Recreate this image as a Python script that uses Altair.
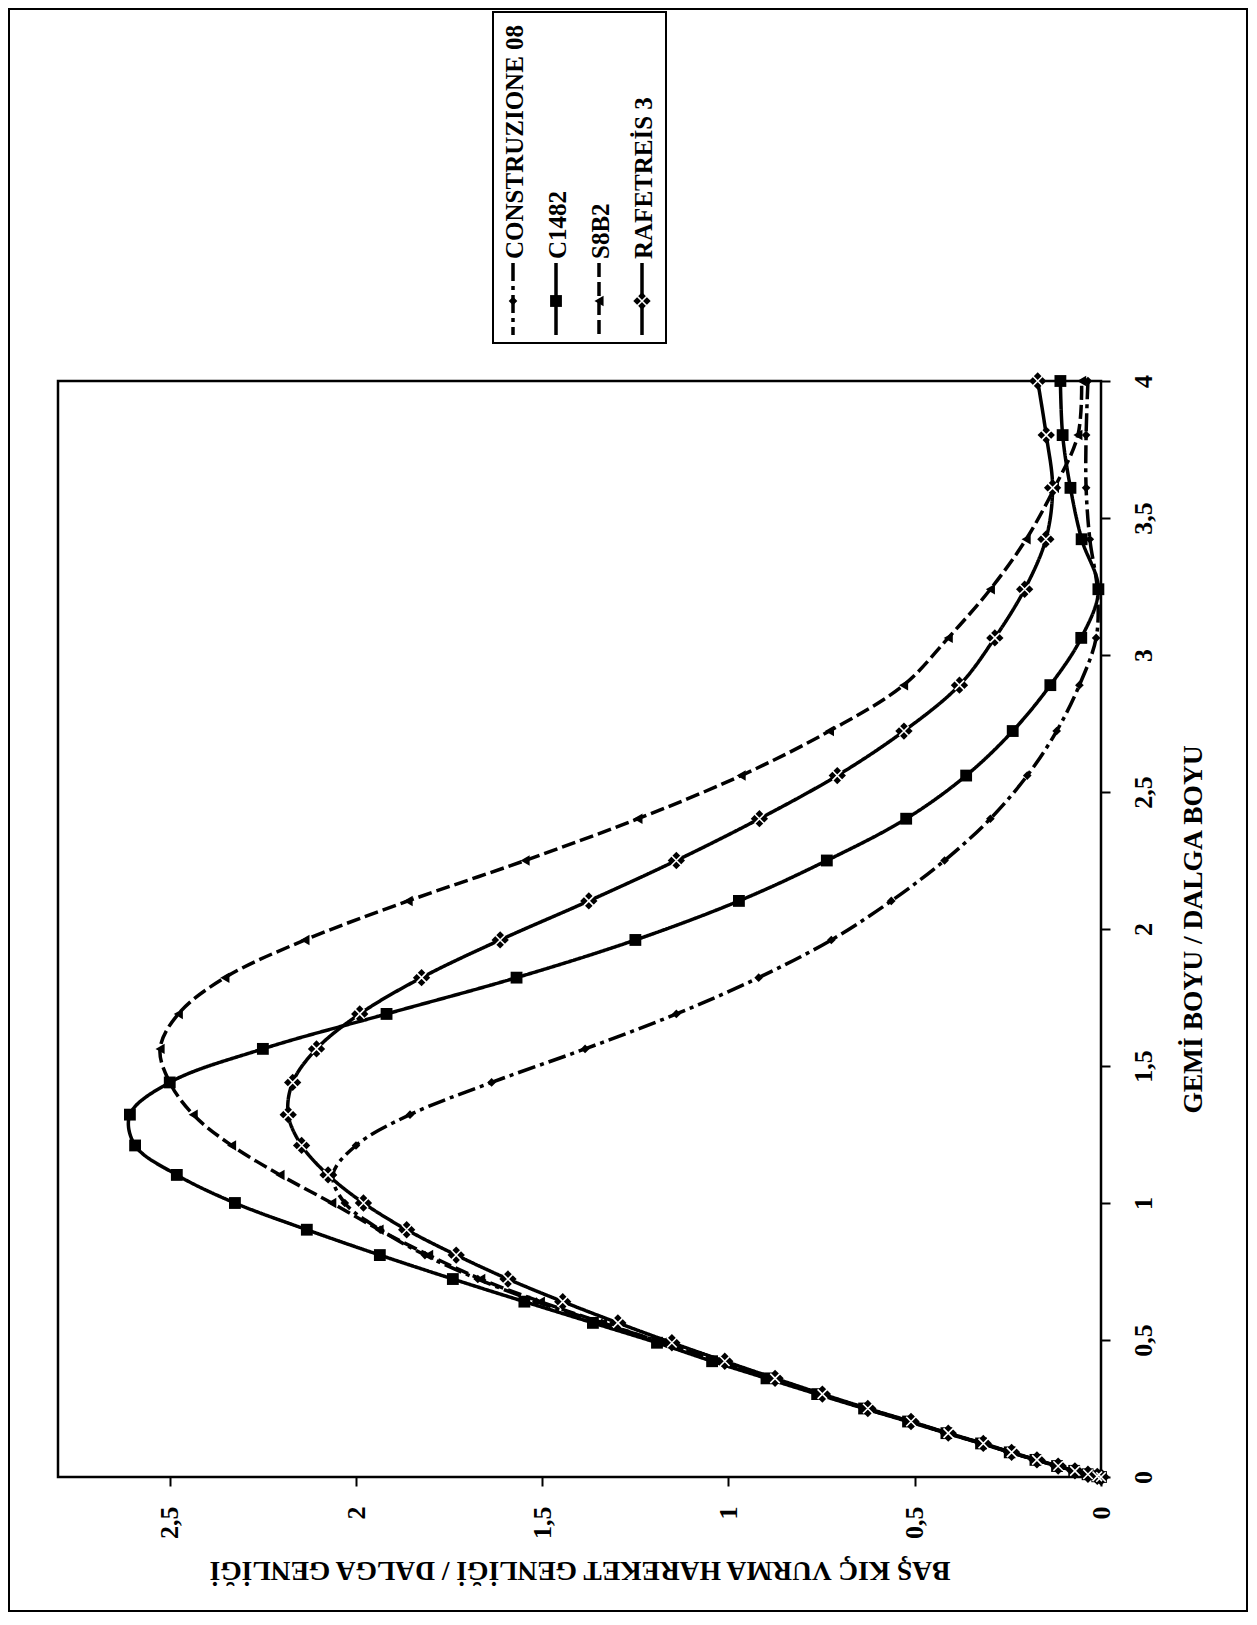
import altair as alt
import pandas as pd

# ---- data ----
gemi = [0, 0.0025, 0.01, 0.0225, 0.04, 0.0625, 0.09, 0.1225, 0.16, 0.2025, 0.25,
        0.3025, 0.36, 0.4225, 0.49, 0.5625, 0.64, 0.7225, 0.81, 0.9025, 1.0,
        1.1025, 1.21, 1.3225, 1.44, 1.5625, 1.69, 1.8225, 1.96, 2.1025, 2.25,
        2.4025, 2.56, 2.7225, 2.89, 3.0625, 3.24, 3.4225, 3.61, 3.8025, 4.0]

construzione = [0, 0.01, 0.036, 0.071, 0.117, 0.174, 0.243, 0.32, 0.413, 0.514, 0.632,
                0.756, 0.888, 1.03, 1.178, 1.34, 1.516, 1.673, 1.815, 1.935, 2.03,
                2.062, 2.0, 1.855, 1.636, 1.385, 1.14, 0.919, 0.724, 0.563, 0.42,
                0.297, 0.198, 0.119, 0.058, 0.013, 0.01, 0.03, 0.04, 0.04, 0.035]

c1482 = [0, 0.01, 0.036, 0.072, 0.118, 0.176, 0.245, 0.322, 0.415, 0.518, 0.636,
         0.762, 0.898, 1.044, 1.192, 1.364, 1.548, 1.74, 1.936, 2.132, 2.325,
         2.481, 2.593, 2.607, 2.5, 2.25, 1.918, 1.569, 1.25, 0.972, 0.736,
         0.523, 0.362, 0.237, 0.136, 0.053, 0.007, 0.052, 0.082, 0.103, 0.109]

s8b2 = [0, 0.01, 0.036, 0.071, 0.117, 0.174, 0.243, 0.32, 0.413, 0.514, 0.632,
        0.756, 0.888, 1.03, 1.178, 1.338, 1.505, 1.665, 1.805, 1.938, 2.065,
        2.204, 2.334, 2.437, 2.5, 2.526, 2.477, 2.352, 2.137, 1.86, 1.546,
        1.243, 0.966, 0.729, 0.53, 0.41, 0.297, 0.201, 0.125, 0.062, 0.052]

rafetreis = [0, 0.01, 0.035, 0.07, 0.115, 0.172, 0.24, 0.316, 0.41, 0.51, 0.626,
             0.748, 0.875, 1.01, 1.152, 1.297, 1.445, 1.592, 1.731, 1.864, 1.98,
             2.075, 2.146, 2.182, 2.17, 2.106, 1.99, 1.824, 1.613, 1.375, 1.14,
             0.917, 0.708, 0.529, 0.38, 0.285, 0.205, 0.148, 0.13, 0.147, 0.17]

series_names = ["CONSTRUZIONE 08", "C1482", "S8B2", "RAFETREİS 3"]
series_values = [construzione, c1482, s8b2, rafetreis]

value_ticks = [0, 0.5, 1, 1.5, 2, 2.5]
gemi_ticks = [0, 0.5, 1, 1.5, 2, 2.5, 3, 3.5, 4]

x_title = "BAŞ KIÇ VURMA HAREKET GENLİĞİ / DALGA GENLİĞİ"
y_title = "GEMİ BOYU / DALGA BOYU"

# ---- styles ----
FONT = "Liberation Serif"
FS = 26
FS_TITLE = 27.5
FS_LEG = 25
LW = 3.5
dashes = [[18, 5, 4, 5], [1, 0], [14, 5], [1, 0]]
shapes = ["diamond", "square", "triangle-left", "diamond"]
sizes = [75, 140, 110, 300]
XPATH = "M-0.55,-0.55L0.55,0.55M-0.55,0.55L0.55,-0.55"

rows = []
for name, vals in zip(series_names, series_values):
    for g, v in zip(gemi, vals):
        rows.append({"series": name, "gemi": g, "val": v})
df = pd.DataFrame(rows)

W, H = 1043, 1096

xscale = alt.Scale(domain=[0, 2.8], reverse=True, nice=False, zero=True)
yscale = alt.Scale(domain=[0, 4], nice=False)

xaxis = alt.Axis(
    orient="bottom", values=value_ticks,
    labelExpr="replace(toString(datum.value), '.', ',')",
    labelAngle=270, labelAlign="right", labelBaseline="middle",
    labelPadding=20, labelFlush=False, labelOverlap=False,
    labelFont=FONT, labelFontSize=FS, labelFontWeight="bold", labelColor="black",
    tickSize=9, tickWidth=2, tickColor="black", domain=False, grid=False,
    title=x_title, titleAngle=180, titleBaseline="alphabetic", titleY=84,
    titleFont=FONT, titleFontSize=FS_TITLE, titleFontWeight="bold", titleColor="black",
)
yaxis = alt.Axis(
    orient="right", values=gemi_ticks,
    labelExpr="replace(toString(datum.value), '.', ',')",
    labelAngle=270, labelAlign="center", labelBaseline="top",
    labelPadding=20, labelFlush=False, labelOverlap=False,
    labelFont=FONT, labelFontSize=FS, labelFontWeight="bold", labelColor="black",
    tickSize=9, tickWidth=2, tickColor="black", domain=False, grid=False,
    title=y_title, titleAngle=270, titleBaseline="alphabetic", titleX=100,
    titleFont=FONT, titleFontSize=FS_TITLE, titleFontWeight="bold", titleColor="black",
)

X = alt.X("val:Q", scale=xscale, axis=xaxis)
Y = alt.Y("gemi:Q", scale=yscale, axis=yaxis)

base = alt.Chart(df)
layers = []
for i, name in enumerate(series_names):
    layers.append(
        base.transform_filter(alt.datum.series == name)
        .mark_line(color="black", strokeWidth=LW, strokeDash=dashes[i],
                   interpolate="catmull-rom")
        .encode(x=X, y=Y, order=alt.Order("gemi:Q"))
    )
for i, name in enumerate(series_names):
    layers.append(
        base.transform_filter(alt.datum.series == name)
        .mark_point(shape=shapes[i], size=sizes[i], filled=True, color="black",
                    opacity=1)
        .encode(x=X, y=Y)
    )
layers.append(
    base.transform_filter(alt.datum.series == series_names[3])
    .mark_point(shape=XPATH, size=sizes[3], filled=False, stroke="white",
                strokeWidth=1.6, opacity=1)
    .encode(x=X, y=Y)
)

# ---- hand-made rotated legend (layout positions in pixels, relative to plot) ----
one = pd.DataFrame({"a": [0]})
leg_x = [455, 498, 541, 584]
layers.append(
    alt.Chart(one).mark_rect(fill=None, stroke="black", strokeWidth=2)
    .encode(x=alt.value(435), x2=alt.value(608), y=alt.value(-369), y2=alt.value(-38))
)
for i, name in enumerate(series_names):
    lx = leg_x[i]
    layers.append(
        alt.Chart(one).mark_rule(color="black", strokeWidth=LW, strokeDash=dashes[i])
        .encode(x=alt.value(lx), y=alt.value(-118), y2=alt.value(-46))
    )
    layers.append(
        alt.Chart(one).mark_point(shape=shapes[i], size=sizes[i], filled=True,
                                  color="black", opacity=1)
        .encode(x=alt.value(lx), y=alt.value(-80))
    )
    if i == 3:
        layers.append(
            alt.Chart(one).mark_point(shape=XPATH, size=sizes[3], filled=False,
                                      stroke="white", strokeWidth=1.6, opacity=1)
            .encode(x=alt.value(lx), y=alt.value(-80))
        )
    layers.append(
        alt.Chart(one).mark_text(angle=270, align="left", baseline="middle",
                                 font=FONT, fontSize=FS_LEG, fontWeight="bold",
                                 color="black")
        .encode(x=alt.value(lx + 2), y=alt.value(-122), text=alt.value(name))
    )

# outer scan frame
layers.append(
    alt.Chart(one).mark_rect(fill=None, stroke="black", strokeWidth=2)
    .encode(x=alt.value(-49), x2=alt.value(1189), y=alt.value(-372), y2=alt.value(1230))
)

chart = (
    alt.layer(*layers)
    .properties(
        width=W, height=H,
        padding={"left": 50, "top": 373, "right": 148, "bottom": 136},
        autosize=alt.AutoSizeParams(type="none"),
        background="white",
    )
    .configure_view(stroke="black", strokeWidth=2.5)
)

chart.save("out.html", embed_options={"renderer": "svg", "actions": False})
